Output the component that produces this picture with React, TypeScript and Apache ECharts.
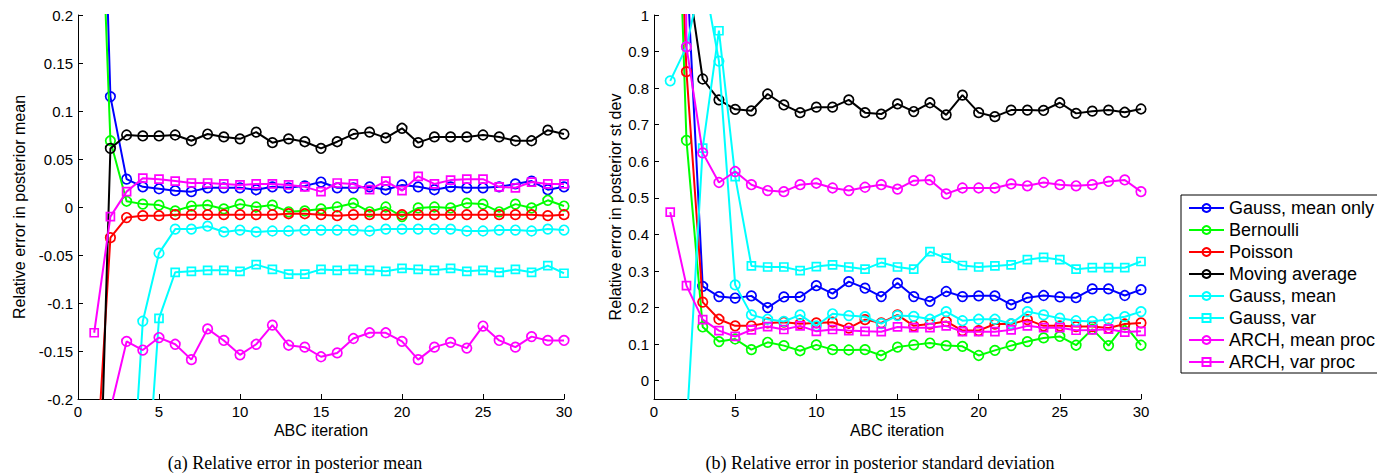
import React, { useEffect, useRef } from "react";
import * as echarts from "echarts";

const iterations = [1, 2, 3, 4, 5, 6, 7, 8, 9, 10, 11, 12, 13, 14, 15, 16, 17, 18, 19, 20, 21, 22, 23, 24, 25, 26, 27, 28, 29, 30];

const seriesNames = ["Gauss, mean only", "Bernoulli", "Poisson", "Moving average", "Gauss, mean", "Gauss, var", "ARCH, mean proc", "ARCH, var proc"];
const seriesColors = ["#0000ff", "#00ff00", "#ff0000", "#000000", "#00ffff", "#00ffff", "#ff00ff", "#ff00ff"];
const seriesSymbols = ["circle", "circle", "circle", "circle", "circle", "rect", "circle", "rect"];

// (a) relative error in posterior mean
const gaussMeanOnlyMean = [0.68, 0.115, 0.029, 0.021, 0.019, 0.017, 0.016, 0.020, 0.020, 0.020, 0.018, 0.021, 0.020, 0.022, 0.026, 0.020, 0.020, 0.021, 0.018, 0.023, 0.021, 0.018, 0.021, 0.020, 0.020, 0.021, 0.024, 0.027, 0.018, 0.021];
const bernoulliMean = [0.52, 0.069, 0.006, 0.003, 0.002, -0.004, 0.001, 0.002, -0.002, 0.003, 0.000, 0.002, -0.005, -0.004, -0.002, 0.000, 0.004, -0.005, 0.000, -0.010, -0.001, 0.000, -0.001, 0.004, 0.003, -0.005, 0.003, -0.001, 0.007, 0.001];
const poissonMean = [-0.31, -0.032, -0.011, -0.009, -0.009, -0.008, -0.008, -0.008, -0.008, -0.008, -0.008, -0.008, -0.007, -0.007, -0.008, -0.009, -0.008, -0.008, -0.008, -0.008, -0.008, -0.008, -0.008, -0.008, -0.008, -0.008, -0.008, -0.008, -0.009, -0.008];
const movingAverageMean = [-0.51, 0.061, 0.075, 0.074, 0.074, 0.075, 0.069, 0.076, 0.073, 0.071, 0.078, 0.067, 0.071, 0.068, 0.061, 0.068, 0.076, 0.078, 0.072, 0.082, 0.067, 0.073, 0.073, 0.073, 0.075, 0.073, 0.069, 0.069, 0.080, 0.076];
const gaussMeanMean = [-1.2, -0.75, -0.39, -0.119, -0.048, -0.023, -0.023, -0.020, -0.026, -0.024, -0.026, -0.025, -0.025, -0.024, -0.024, -0.024, -0.024, -0.025, -0.023, -0.023, -0.023, -0.023, -0.023, -0.025, -0.025, -0.024, -0.024, -0.025, -0.023, -0.024];
const gaussVarMean = [-1.5, -1.0, -0.7, -0.356, -0.116, -0.068, -0.067, -0.066, -0.066, -0.067, -0.060, -0.065, -0.070, -0.070, -0.065, -0.066, -0.065, -0.066, -0.067, -0.064, -0.065, -0.066, -0.064, -0.067, -0.066, -0.068, -0.065, -0.068, -0.061, -0.069];
const archMeanProcMean = [-0.5, -0.211, -0.140, -0.149, -0.136, -0.143, -0.159, -0.127, -0.139, -0.154, -0.143, -0.123, -0.144, -0.146, -0.156, -0.152, -0.137, -0.131, -0.131, -0.140, -0.159, -0.146, -0.141, -0.147, -0.124, -0.139, -0.146, -0.135, -0.139, -0.139];
const archVarProcMean = [-0.131, -0.010, 0.016, 0.030, 0.029, 0.027, 0.025, 0.025, 0.024, 0.023, 0.024, 0.024, 0.023, 0.021, 0.016, 0.025, 0.024, 0.018, 0.027, 0.017, 0.032, 0.024, 0.028, 0.029, 0.029, 0.021, 0.020, 0.026, 0.024, 0.024];

// (b) relative error in posterior standard deviation
const gaussMeanOnlySd = [2.5, 1.15, 0.258, 0.230, 0.226, 0.232, 0.200, 0.229, 0.229, 0.260, 0.238, 0.271, 0.253, 0.230, 0.267, 0.230, 0.217, 0.244, 0.230, 0.232, 0.232, 0.208, 0.227, 0.233, 0.229, 0.227, 0.251, 0.251, 0.233, 0.249];
const bernoulliSd = [2.03, 0.657, 0.147, 0.107, 0.114, 0.085, 0.105, 0.096, 0.082, 0.098, 0.085, 0.084, 0.085, 0.069, 0.092, 0.098, 0.103, 0.096, 0.094, 0.069, 0.083, 0.096, 0.107, 0.117, 0.121, 0.097, 0.141, 0.096, 0.153, 0.097];
const poissonSd = [2.04, 0.845, 0.215, 0.168, 0.150, 0.150, 0.158, 0.160, 0.156, 0.158, 0.160, 0.144, 0.167, 0.158, 0.180, 0.150, 0.155, 0.162, 0.137, 0.137, 0.155, 0.155, 0.167, 0.150, 0.150, 0.148, 0.148, 0.144, 0.155, 0.158];
const movingAverageSd = [1.4, 1.13, 0.825, 0.768, 0.742, 0.738, 0.784, 0.754, 0.733, 0.748, 0.748, 0.768, 0.733, 0.729, 0.757, 0.736, 0.760, 0.727, 0.781, 0.733, 0.722, 0.740, 0.740, 0.739, 0.760, 0.731, 0.737, 0.740, 0.734, 0.743];
const gaussMeanSd = [0.82, 0.913, 1.12, 0.874, 0.262, 0.180, 0.168, 0.162, 0.180, 0.150, 0.183, 0.178, 0.175, 0.156, 0.178, 0.176, 0.168, 0.189, 0.164, 0.168, 0.168, 0.156, 0.189, 0.180, 0.171, 0.164, 0.162, 0.168, 0.175, 0.189];
const gaussVarSd = [-0.5, -0.135, 0.636, 0.957, 0.558, 0.314, 0.311, 0.311, 0.301, 0.312, 0.317, 0.311, 0.305, 0.323, 0.311, 0.305, 0.353, 0.335, 0.315, 0.311, 0.314, 0.317, 0.331, 0.337, 0.331, 0.305, 0.309, 0.309, 0.309, 0.326];
const archMeanProcSd = [6.0, 0.913, 0.623, 0.542, 0.572, 0.536, 0.520, 0.517, 0.536, 0.540, 0.527, 0.520, 0.529, 0.536, 0.524, 0.547, 0.549, 0.511, 0.527, 0.527, 0.527, 0.538, 0.533, 0.542, 0.536, 0.533, 0.536, 0.545, 0.549, 0.517];
const archVarProcSd = [0.461, 0.260, 0.167, 0.137, 0.121, 0.139, 0.148, 0.140, 0.150, 0.135, 0.140, 0.137, 0.135, 0.134, 0.147, 0.145, 0.145, 0.150, 0.134, 0.134, 0.134, 0.139, 0.150, 0.145, 0.145, 0.138, 0.139, 0.141, 0.133, 0.135];

const meanValues = [gaussMeanOnlyMean, bernoulliMean, poissonMean, movingAverageMean, gaussMeanMean, gaussVarMean, archMeanProcMean, archVarProcMean];
const sdValues = [gaussMeanOnlySd, bernoulliSd, poissonSd, movingAverageSd, gaussMeanSd, gaussVarSd, archMeanProcSd, archVarProcSd];

const xTicks = [0, 5, 10, 15, 20, 25, 30];
const meanYTicks = [-0.2, -0.15, -0.1, -0.05, 0, 0.05, 0.1, 0.15, 0.2];
const sdYTicks = [0, 0.1, 0.2, 0.3, 0.4, 0.5, 0.6, 0.7, 0.8, 0.9, 1];

const FONT = "'Liberation Sans', Arial, Helvetica, sans-serif";
const SERIF = "'Liberation Serif', 'Times New Roman', serif";

const fmt = (v: number) => String(Math.round(v * 100) / 100);

function makeXAxis(gridIndex: number) {
  return {
    type: "value",
    gridIndex,
    min: 0,
    max: 30,
    interval: 5,
    axisLine: { show: true, onZero: false, lineStyle: { color: "#000", width: 1 } },
    axisTick: { show: true, inside: true, length: 5, customValues: xTicks, lineStyle: { color: "#000" } },
    axisLabel: { customValues: xTicks, color: "#000", fontFamily: FONT, fontSize: 15, margin: 5, formatter: fmt },
    splitLine: { show: false },
  };
}

function makeYAxis(gridIndex: number, min: number, max: number, ticks: number[]) {
  return {
    type: "value",
    gridIndex,
    min,
    max,
    axisLine: { show: true, onZero: false, lineStyle: { color: "#000", width: 1 } },
    axisTick: { show: true, inside: true, length: 5, customValues: ticks, lineStyle: { color: "#000" } },
    axisLabel: { customValues: ticks, color: "#000", fontFamily: FONT, fontSize: 15, margin: 5, formatter: fmt },
    splitLine: { show: false },
  };
}

function makeSeries(i: number, values: number[], axis: number) {
  const color = seriesColors[i];
  const isRect = seriesSymbols[i] === "rect";
  return {
    type: "line",
    name: seriesNames[i],
    xAxisIndex: axis,
    yAxisIndex: axis,
    data: iterations.map((x, k) => [x, values[k]]),
    symbol: isRect ? "rect" : "circle",
    symbolSize: isRect ? 8 : 9.5,
    showSymbol: true,
    showAllSymbol: true,
    clip: true,
    z: 2 + i * 0.01,
    lineStyle: { color, width: 2 },
    itemStyle: { color: "rgba(255,255,255,0)", borderColor: color, borderWidth: 1.7 },
    emphasis: { disabled: true },
  };
}

export default function App() {
  const ref = useRef<HTMLDivElement>(null);
  useEffect(() => {
    if (!ref.current) return;
    const chart = echarts.init(ref.current, undefined, { renderer: "svg" });
    const series: any[] = [];
    seriesNames.forEach((_, i) => series.push(makeSeries(i, meanValues[i], 0)));
    seriesNames.forEach((_, i) => series.push(makeSeries(i, sdValues[i], 1)));
    chart.setOption({
      animation: false,
      backgroundColor: "#fff",
      grid: [
        { left: 78, top: 15, width: 486, height: 384, containLabel: false },
        { left: 654, top: 15, width: 487, height: 384, containLabel: false },
      ],
      xAxis: [makeXAxis(0), makeXAxis(1)],
      yAxis: [makeYAxis(0, -0.2, 0.2, meanYTicks), makeYAxis(1, -0.05, 1, sdYTicks)],
      legend: {
        data: seriesNames,
        orient: "vertical",
        left: 1181,
        top: 195,
        itemWidth: 35,
        itemHeight: 10,
        itemGap: 0,
        padding: [2, 5, 0, 7],
        backgroundColor: "#fff",
        borderColor: "#000",
        borderWidth: 1,
        borderRadius: 0,
        selectedMode: false,
        textStyle: { color: "#000", fontFamily: FONT, fontSize: 18, lineHeight: 22 },
      },
      graphic: [
        { type: "text", x: 19, y: 207, rotation: Math.PI / 2, style: { text: "Relative error in posterior mean", font: `16px ${FONT}`, fill: "#000", textAlign: "center", textVerticalAlign: "middle" } },
        { type: "text", x: 615, y: 207, rotation: Math.PI / 2, style: { text: "Relative error in posterior st dev", font: `16px ${FONT}`, fill: "#000", textAlign: "center", textVerticalAlign: "middle" } },
        { type: "text", x: 321, y: 430, style: { text: "ABC iteration", font: `16px ${FONT}`, fill: "#000", textAlign: "center", textVerticalAlign: "middle" } },
        { type: "text", x: 897, y: 430, style: { text: "ABC iteration", font: `16px ${FONT}`, fill: "#000", textAlign: "center", textVerticalAlign: "middle" } },
        { type: "text", x: 295, y: 463, style: { text: "(a) Relative error in posterior mean", font: `18px ${SERIF}`, fill: "#000", textAlign: "center", textVerticalAlign: "middle" } },
        { type: "text", x: 880, y: 463, style: { text: "(b) Relative error in posterior standard deviation", font: `18px ${SERIF}`, fill: "#000", textAlign: "center", textVerticalAlign: "middle" } },
      ],
      series,
    });
    return () => chart.dispose();
  }, []);
  return <div ref={ref} style={{ position: "fixed", left: 0, top: 0, width: 1377, height: 473 }} />;
}
